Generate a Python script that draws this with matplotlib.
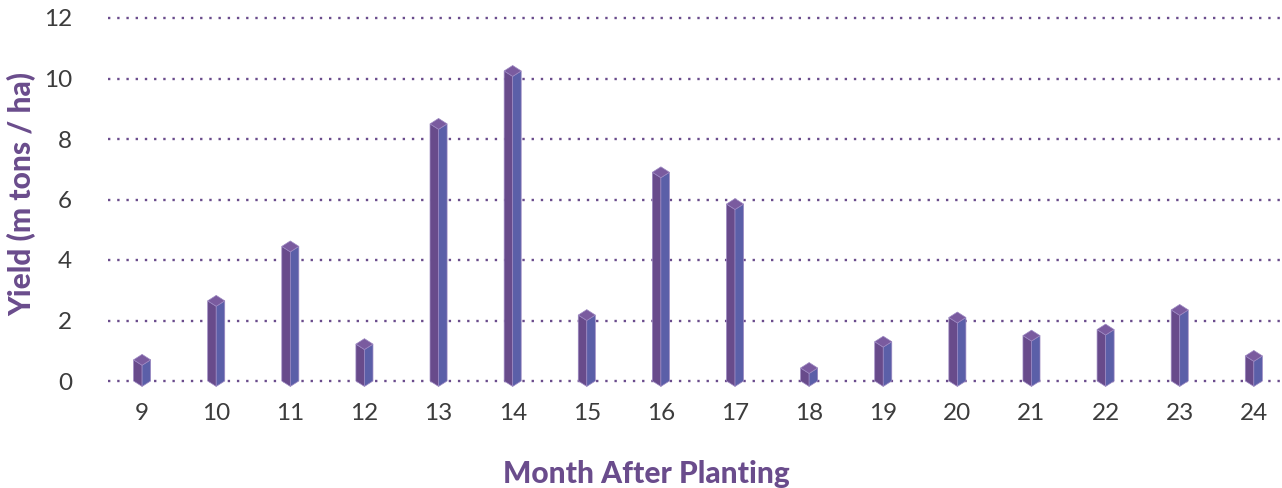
import matplotlib
matplotlib.use("Agg")
import matplotlib.pyplot as plt
from matplotlib.patches import Polygon

months = ["9", "10", "11", "12", "13", "14", "15", "16", "17", "18", "19", "20", "21", "22", "23", "24"]
yields = [0.70, 2.65, 4.45, 1.22, 8.50, 10.25, 2.18, 6.90, 5.85, 0.43, 1.30, 2.10, 1.50, 1.70, 2.35, 0.83]
yticks = [0, 2, 4, 6, 8, 10, 12]

purple = "#6a4c8c"
left_c = "#684b8b"
right_c = "#5b5fa8"
top_c = "#7a5b9f"
edge_c = "#9c88c2"

plt.rcParams['font.family'] = ['Lato', 'DejaVu Sans']

fig = plt.figure(figsize=(12.82, 4.88), dpi=100)
ax = fig.add_axes([108/1282, (488-381)/488, 1 - 108/1282, (381-18)/488])

x = list(range(len(months)))
ax.set_xlim(-0.46, 15.38)
ax.set_ylim(0, 12)

hw = 0.115   # half width of a prism (data units)
d = 0.18     # vertical half-depth of the diamond (data units)
for xi, v in zip(x, yields):
    lf = Polygon([(xi-hw, 0), (xi, -d), (xi, v-d), (xi-hw, v)], closed=True,
                 facecolor=left_c, edgecolor=edge_c, linewidth=0.5, clip_on=False, zorder=3)
    rf = Polygon([(xi, -d), (xi+hw, 0), (xi+hw, v), (xi, v-d)], closed=True,
                 facecolor=right_c, edgecolor=edge_c, linewidth=0.5, clip_on=False, zorder=3)
    tp = Polygon([(xi-hw, v), (xi, v+d), (xi+hw, v), (xi, v-d)], closed=True,
                 facecolor=top_c, edgecolor=edge_c, linewidth=0.5, clip_on=False, zorder=4)
    for p in (lf, rf, tp):
        ax.add_patch(p)

for yv in yticks:
    ax.axhline(yv, color=purple, linestyle=(0, (1, 2.9)), linewidth=1.7, zorder=2, clip_on=False)

ax.set_xticks(x)
ax.set_xticklabels(months)
ax.set_yticks(yticks)
ax.set_yticklabels([str(t) for t in yticks])
ax.tick_params(axis='both', length=0, labelsize=17.5, labelcolor="#3c3c3c")
ax.tick_params(axis='x', pad=16)
ax.tick_params(axis='y', pad=26)
for s in ax.spines.values():
    s.set_visible(False)

fig.text(22/1282, 1 - 194/488, "Yield (m tons / ha)", rotation=90, ha='center', va='center',
         fontsize=21.5, fontweight='black', color=purple)
fig.text(646/1282, 1 - 474/488, "Month After Planting", ha='center', va='center',
         fontsize=21.5, fontweight='black', color=purple)

fig.savefig("out.png", dpi=100)
